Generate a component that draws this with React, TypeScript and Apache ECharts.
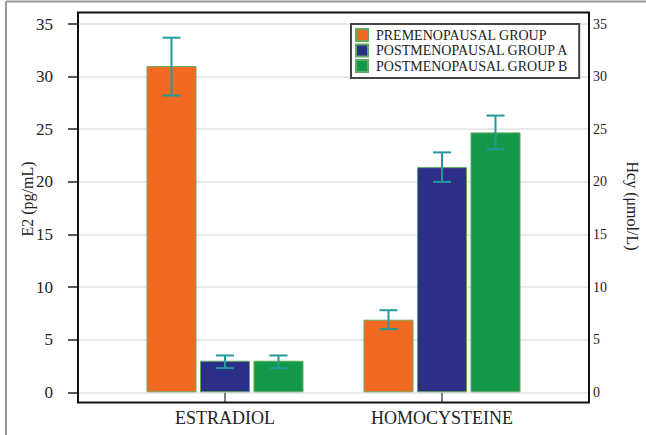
import React, { useEffect, useRef } from "react";
import * as echarts from "echarts";

const categories = ["ESTRADIOL", "HOMOCYSTEINE"];
const seriesNames = ["PREMENOPAUSAL GROUP", "POSTMENOPAUSAL GROUP A", "POSTMENOPAUSAL GROUP B"];
const premenopausal = [31.0, 6.9];
const postA = [3.0, 21.4];
const postB = [3.0, 24.7];
const premenopausalErr = [[28.2, 33.7], [6.0, 7.8]];
const postAErr = [[2.3, 3.5], [20.0, 22.8]];
const postBErr = [[2.3, 3.5], [23.1, 26.3]];
const yTicksMin = 0;
const yTicksMax = 35;
const yTickStep = 5;

const colors = ["#f26a22", "#2b2f88", "#14994a"];
const FONT = "'Liberation Serif', 'Times New Roman', serif";
const BAR_W = 50;
const BAR_GAP = 3.5;

export default function App() {
  const ref = useRef<HTMLDivElement>(null);
  useEffect(() => {
    if (!ref.current) return;
    const chart = echarts.init(ref.current, null, { renderer: "svg" });
    const values = [premenopausal, postA, postB];
    const errs = [premenopausalErr, postAErr, postBErr];

    const barSeries = values.map((v, i) => ({
      name: seriesNames[i],
      type: "bar",
      xAxisIndex: 1,
      yAxisIndex: 2,
      data: v,
      barWidth: BAR_W,
      barGap: (BAR_GAP / BAR_W) * 100 + "%",
      itemStyle: { color: colors[i], borderColor: "#62a85e", borderWidth: 1 },
      z: 2,
    }));

    const errSeries = errs.map((e, i) => ({
      type: "custom",
      xAxisIndex: 1,
      yAxisIndex: 2,
      silent: true,
      z: 5,
      data: e.map((d, c) => [c, d[0], d[1]]),
      renderItem: (params: any, api: any) => {
        const c = api.value(0);
        const lo = api.coord([c, api.value(1)]);
        const hi = api.coord([c, api.value(2)]);
        const x = lo[0] + (i - 1) * (BAR_W + BAR_GAP);
        const cap = 9;
        const style = { stroke: "#22999c", lineWidth: 2 };
        return {
          type: "group",
          children: [
            { type: "line", shape: { x1: x, y1: lo[1], x2: x, y2: hi[1] }, style },
            { type: "line", shape: { x1: x - cap, y1: lo[1], x2: x + cap, y2: lo[1] }, style },
            { type: "line", shape: { x1: x - cap, y1: hi[1], x2: x + cap, y2: hi[1] }, style },
          ],
        };
      },
    }));

    // category tick marks below the bars (from the axis baseline down to the frame)
    const catTickSeries = {
      type: "custom",
      xAxisIndex: 1,
      yAxisIndex: 2,
      silent: true,
      clip: false,
      z: 6,
      data: categories.map((_, c) => [c, yTicksMin]),
      renderItem: (params: any, api: any) => {
        const p = api.coord([api.value(0), api.value(1)]);
        return {
          type: "line",
          shape: { x1: p[0], y1: p[1] + 0.5, x2: p[0], y2: p[1] + 10 },
          style: { stroke: "#555", lineWidth: 1.5 },
        };
      },
    };

    chart.setOption({
      animation: false,
      backgroundColor: "#ffffff",
      textStyle: { fontFamily: FONT },
      legend: {
        data: seriesNames,
        orient: "vertical",
        left: 351,
        top: 24,
        padding: [4, 10, 5, 4],
        itemGap: 1.5,
        itemWidth: 12,
        itemHeight: 12,
        icon: "rect",
        borderColor: "#444",
        borderWidth: 2,
        backgroundColor: "#fff",
        textStyle: { fontFamily: FONT, fontSize: 14, color: "#222", padding: [0, 0, 0, 3] },
        z: 10,
      },
      grid: [
        { left: 78, right: 57, top: 24, bottom: 42.7 },
        { left: 116.5, right: 95.5, top: 24, bottom: 42.7 },
      ],
      xAxis: [
        { type: "value", gridIndex: 0, min: 0, max: 1, show: false },
        {
          type: "category",
          gridIndex: 1,
          data: categories,
          axisLine: { show: false },
          axisTick: { show: false },
          axisLabel: { fontFamily: FONT, fontSize: 18, color: "#222", margin: 17 },
        },
      ],
      yAxis: [
        {
          type: "value",
          gridIndex: 0,
          position: "left",
          min: yTicksMin,
          max: yTicksMax,
          interval: yTickStep,
          axisLine: { show: false },
          axisTick: { show: true, length: 10, lineStyle: { color: "#222", width: 1.5 } },
          axisLabel: { fontFamily: FONT, fontSize: 17, color: "#222", margin: 25 },
          splitLine: { show: true, lineStyle: { color: "#e2e2e2", width: 1.5 } },
        },
        {
          type: "value",
          gridIndex: 0,
          position: "right",
          min: yTicksMin,
          max: yTicksMax,
          interval: yTickStep,
          axisLine: { show: false },
          axisTick: { show: false },
          axisLabel: { fontFamily: FONT, fontSize: 14, color: "#222", margin: 4 },
          splitLine: { show: false },
        },
        { type: "value", gridIndex: 1, min: yTicksMin, max: yTicksMax, interval: yTickStep, show: false },
      ],
      graphic: [
        {
          type: "rect",
          shape: { x: 78, y: 12.5, width: 511, height: 390 },
          style: { fill: "none", stroke: "#111", lineWidth: 2 },
          z: 20,
          silent: true,
        },
        { type: "line", shape: { x1: 6, y1: 1.5, x2: 646, y2: 1.5 }, style: { stroke: "#999", lineWidth: 2 }, silent: true },
        { type: "line", shape: { x1: 6, y1: 1.5, x2: 6, y2: 435 }, style: { stroke: "#999", lineWidth: 2 }, silent: true },
        {
          type: "text",
          x: 27,
          y: 199,
          rotation: Math.PI / 2,
          style: { text: "E2 (pg/mL)", font: `16px ${FONT}`, fill: "#222", align: "center", verticalAlign: "middle" },
        },
        {
          type: "text",
          x: 632,
          y: 206,
          rotation: -Math.PI / 2,
          style: { text: "Hcy (μmol/L)", font: `16px ${FONT}`, fill: "#222", align: "center", verticalAlign: "middle" },
        },
      ],
      series: [...barSeries, ...errSeries, catTickSeries],
    });
    return () => chart.dispose();
  }, []);
  return (
    <div
      ref={ref}
      style={{ position: "fixed", left: 0, top: 0, width: 646, height: 435, background: "#fff" }}
    />
  );
}
